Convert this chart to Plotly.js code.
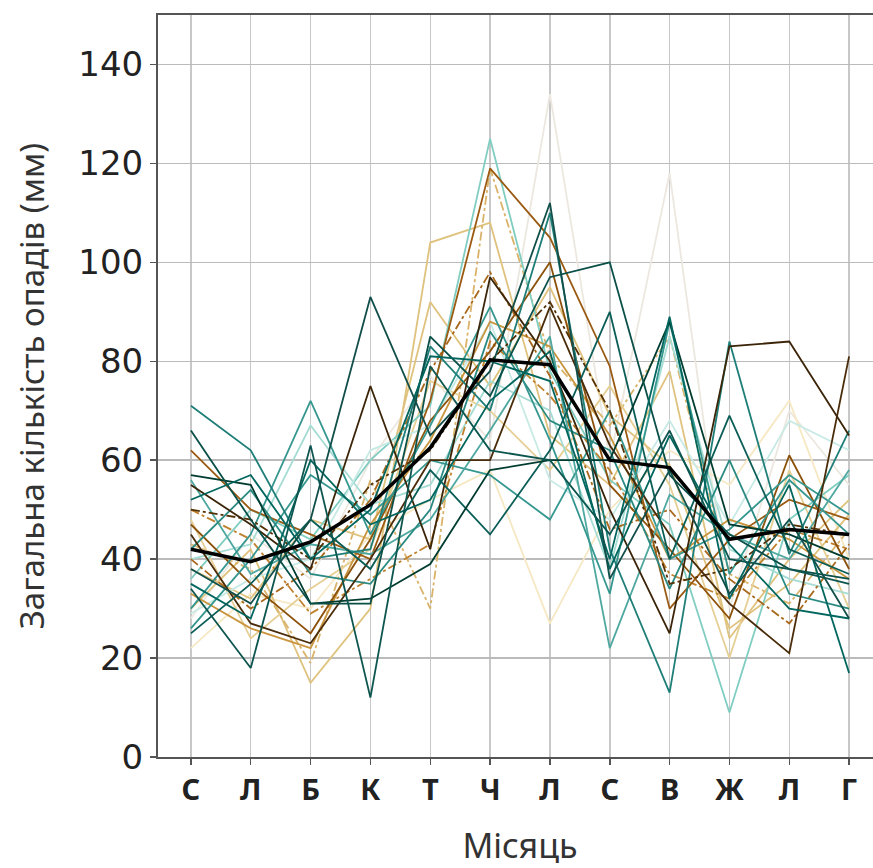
<!DOCTYPE html>
<html>
<head>
<meta charset="utf-8">
<script src="https://cdn.plot.ly/plotly-3.0.1.min.js"></script>
<style>
html,body{margin:0;padding:0;overflow:hidden;background:#fff;}
#chart{width:882px;height:868px;}
</style>
</head>
<body>
<div id="chart"></div>
<script>
// Month tick labels (Ukrainian initials)
const months = ["С","Л","Б","К","Т","Ч","Л","С","В","Ж","Л","Г"];
const monthIdx = [0,1,2,3,4,5,6,7,8,9,10,11];

// Yearly precipitation series (mm)
const d1 = [34, 18, 63, 12, 79, 62, 60, 45, 66, 40, 38, 35];
const d2 = [38, 31, 48, 93, 65, 78, 112, 36, 58, 33, 48, 28];
const d3 = [66, 48, 31, 31, 85, 73, 97, 100, 57, 45, 38, 36];
const d4 = [57, 55, 31, 32, 39, 58, 60, 60, 88, 47, 45, 40];
const d5 = [25, 35, 48, 38, 58, 45, 62, 90, 40, 69, 42, 37];
const d6 = [52, 57, 40, 50, 81, 80, 76, 40, 89, 32, 55, 17];
const d7 = [35, 28, 60, 47, 52, 72, 82, 38, 65, 43, 30, 28];
const b1 = [55, 47, 38, 75, 42, 97, 80, 50, 25, 83, 84, 65];
const b2 = [45, 27, 23, 40, 60, 60, 91, 63, 45, 31, 21, 81];
const b3 = [50, 48, 40, 55, 62, 80, 92, 70, 35, 38, 47, 45];
const br1 = [62, 50, 45, 40, 72, 119, 105, 79, 30, 44, 52, 48];
const br2 = [47, 35, 25, 44, 68, 82, 100, 55, 42, 28, 61, 38];
const br3 = [40, 30, 38, 52, 78, 98, 77, 46, 50, 36, 27, 43];
const br4 = [33, 26, 22, 47, 64, 88, 83, 65, 40, 48, 44, 36];
const br5 = [50, 44, 29, 36, 43, 84, 73, 58, 37, 32, 46, 42];
const t1 = [30, 42, 15, 30, 104, 108, 65, 55, 78, 24, 40, 52];
const t2 = [43, 38, 19, 56, 30, 119, 81, 67, 85, 37, 31, 46];
const t3 = [48, 24, 34, 42, 76, 70, 58, 75, 55, 20, 58, 30];
const t4 = [38, 32, 48, 44, 92, 75, 95, 69, 59, 26, 35, 49];
const p1 = [28, 45, 36, 60, 77, 64, 134, 60, 118, 30, 70, 55];
const p2 = [22, 33, 30, 45, 52, 58, 27, 50, 62, 55, 72, 40];
const l1 = [36, 50, 44, 60, 71, 125, 78, 56, 47, 9, 48, 57];
const l2 = [40, 43, 67, 51, 55, 76, 70, 38, 85, 42, 36, 33];
const l3 = [29, 36, 40, 62, 67, 88, 56, 48, 68, 47, 68, 62];
const m1 = [71, 62, 40, 42, 83, 70, 110, 42, 13, 84, 41, 66];
const m2 = [30, 45, 72, 45, 67, 91, 64, 33, 88, 37, 56, 45];
const m3 = [42, 54, 37, 35, 50, 86, 68, 62, 34, 60, 33, 30];
const m4 = [26, 40, 57, 49, 60, 57, 48, 70, 40, 46, 57, 49];
const m5 = [56, 37, 43, 41, 48, 66, 85, 22, 53, 45, 40, 58];

// Multi-year mean
const meanVals = [42, 39.5, 43.5, 51, 62.5, 80.3, 79.3, 60, 58.5, 44, 46, 45];

const seriesList = [p1, p2, t1, t2, t3, t4, l1, l2, l3, br5, br4, br3, br2, br1, m4, m5, m3, m2, m1, b3, b2, b1, d7, d5, d4, d3, d6, d2, d1];
const seriesColors = ["#ece8e0","#f6e8c3","#dfc27d","#d9b36a","#e6cf95","#dfc27d","#80cdc1","#a6dcd3","#c7eae5","#bf812d","#c9953e","#a8671a","#8c510a","#9a5a12","#35978f","#4fa8a0","#2a8a82","#35978f","#1f7f78","#543005","#4a2c0a","#3b2408","#01665e","#0b5e57","#003c30","#0a4f48","#01665e","#124f4a","#0d554f"];
const seriesDash = ["solid","solid","solid","dashdot","solid","solid","solid","solid","solid","dashdot","solid","dashdot","solid","solid","solid","solid","solid","solid","solid","dashdot","solid","solid","solid","solid","solid","solid","solid","solid","solid"];

const traces = seriesList.map((s, i) => ({
  type: "scatter", mode: "lines",
  x: monthIdx, y: s,
  line: {color: seriesColors[i], width: 1.8, dash: seriesDash[i]},
  hoverinfo: "skip", showlegend: false
}));
traces.push({
  type: "scatter", mode: "lines",
  x: monthIdx, y: meanVals,
  line: {color: "#000000", width: 3.5},
  hoverinfo: "skip", showlegend: false
});

const layout = {
  width: 882, height: 868,
  margin: {l: 158, r: 0, t: 15, b: 111},
  paper_bgcolor: "#ffffff", plot_bgcolor: "#ffffff",
  showlegend: false,
  xaxis: {
    range: [-0.55, 11.55],
    tickmode: "array", tickvals: monthIdx, ticktext: months,
    tickfont: {family: "Noto Sans", size: 29, color: "#222", weight: "bold"},
    showgrid: true, gridcolor: "#c8c8c8", gridwidth: 1.5,
    showline: true, linecolor: "#555", linewidth: 2, mirror: true,
    ticks: "outside", ticklen: 6, tickcolor: "#555", tickwidth: 1.5,
    zeroline: false,
    title: {text: "Місяць", font: {family: "Noto Sans", size: 34, color: "#333"}, standoff: 29}
  },
  yaxis: {
    range: [0, 150],
    tickmode: "array", tickvals: [0,20,40,60,80,100,120,140],
    tickfont: {family: "DejaVu Sans", size: 34, color: "#222"},
    showgrid: true, gridcolor: "#bbbbbb", gridwidth: 1.5,
    showline: true, linecolor: "#555", linewidth: 2, mirror: false,
    ticks: "outside", ticklen: 6, tickcolor: "#555", tickwidth: 1.5,
    zeroline: false,
    title: {text: "Загальна кількість опадів (мм)", font: {family: "Noto Sans", size: 33, color: "#333"}, standoff: 24}
  }
};

Plotly.newPlot("chart", traces, layout, {staticPlot: true, displayModeBar: false});
</script>
</body>
</html>
